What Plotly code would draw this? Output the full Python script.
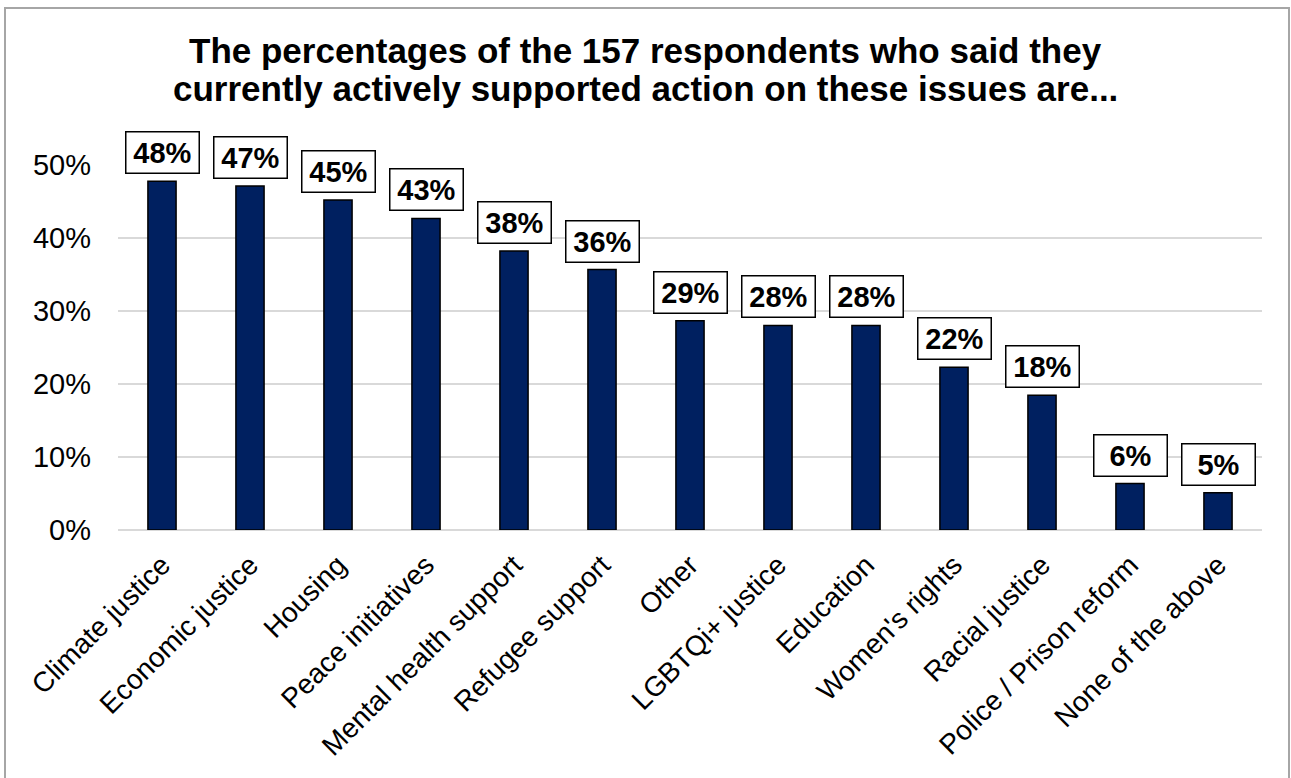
import plotly.graph_objects as go

categories = ["Climate justice", "Economic justice", "Housing", "Peace initiatives",
              "Mental health support", "Refugee support", "Other", "LGBTQi+ justice",
              "Education", "Women's rights", "Racial justice", "Police / Prison reform",
              "None of the above"]
values = [0.4777, 0.4713, 0.4522, 0.4268, 0.3822, 0.3567, 0.2866, 0.2803, 0.2803,
          0.2229, 0.1847, 0.0637, 0.0510]
labels = ["48%", "47%", "45%", "43%", "38%", "36%", "29%", "28%", "28%", "22%", "18%", "6%", "5%"]
yticks = [0, 0.1, 0.2, 0.3, 0.4, 0.5]
yticklabels = ["0%", "10%", "20%", "30%", "40%", "50%"]
title_lines = ["The percentages of the 157 respondents who said they",
               "currently actively supported action on these issues are..."]

FONT = "Liberation Sans, Arial, sans-serif"
W, H = 1291, 778
L, R, T, B = 118, 29, 165, 248
pw, ph = W - L - R, H - T - B

def px_x(x):
    return (x - L) / pw

def px_y(y):
    return (H - B - y) / ph

fig = go.Figure()
fig.add_trace(go.Bar(
    x=categories, y=values, width=0.32,
    marker=dict(color="#002060", line=dict(color="#000000", width=1.5)),
    hoverinfo="skip",
))

for c, v, t in zip(categories, values, labels):
    fig.add_annotation(
        x=c, y=v, text="<b>%s</b>" % t, showarrow=False,
        yanchor="bottom", yshift=7,
        font=dict(family=FONT, size=29, color="#000000"),
        bgcolor="#ffffff", bordercolor="#000000", borderwidth=1.5,
        width=68, height=36, borderpad=2,
    )

for i, line in enumerate(title_lines):
    fig.add_annotation(
        xref="paper", yref="paper", x=px_x(W / 2), y=px_y(51 + 38 * i),
        xanchor="center", yanchor="middle", showarrow=False,
        text="<b>%s</b>" % line,
        font=dict(family=FONT, size=35, color="#000000"),
    )

fig.add_shape(type="rect", xref="paper", yref="paper",
              x0=px_x(5), x1=px_x(1289), y0=px_y(800), y1=px_y(8),
              line=dict(color="#a6a6a6", width=2), fillcolor="rgba(0,0,0,0)", layer="below")

fig.update_layout(
    width=W, height=H,
    margin=dict(l=L, r=R, t=T, b=B, pad=0),
    paper_bgcolor="#ffffff", plot_bgcolor="#ffffff",
    showlegend=False,
    font=dict(family=FONT, color="#000000"),
    xaxis=dict(
        tickangle=-45, tickfont=dict(family=FONT, size=28, color="#000000"),
        showgrid=False, showline=False, ticks="", zeroline=False,
        ticklabelstandoff=12,
    ),
    yaxis=dict(
        range=[0, 0.5], tickvals=yticks, ticktext=yticklabels,
        tickfont=dict(family=FONT, size=29, color="#000000"),
        showgrid=True, gridcolor="#d9d9d9", gridwidth=1.5,
        zeroline=True, zerolinecolor="#d9d9d9", zerolinewidth=1.5,
        showline=False, ticks="", ticklabelstandoff=26,
    ),
)

fig.write_html("out.html")
